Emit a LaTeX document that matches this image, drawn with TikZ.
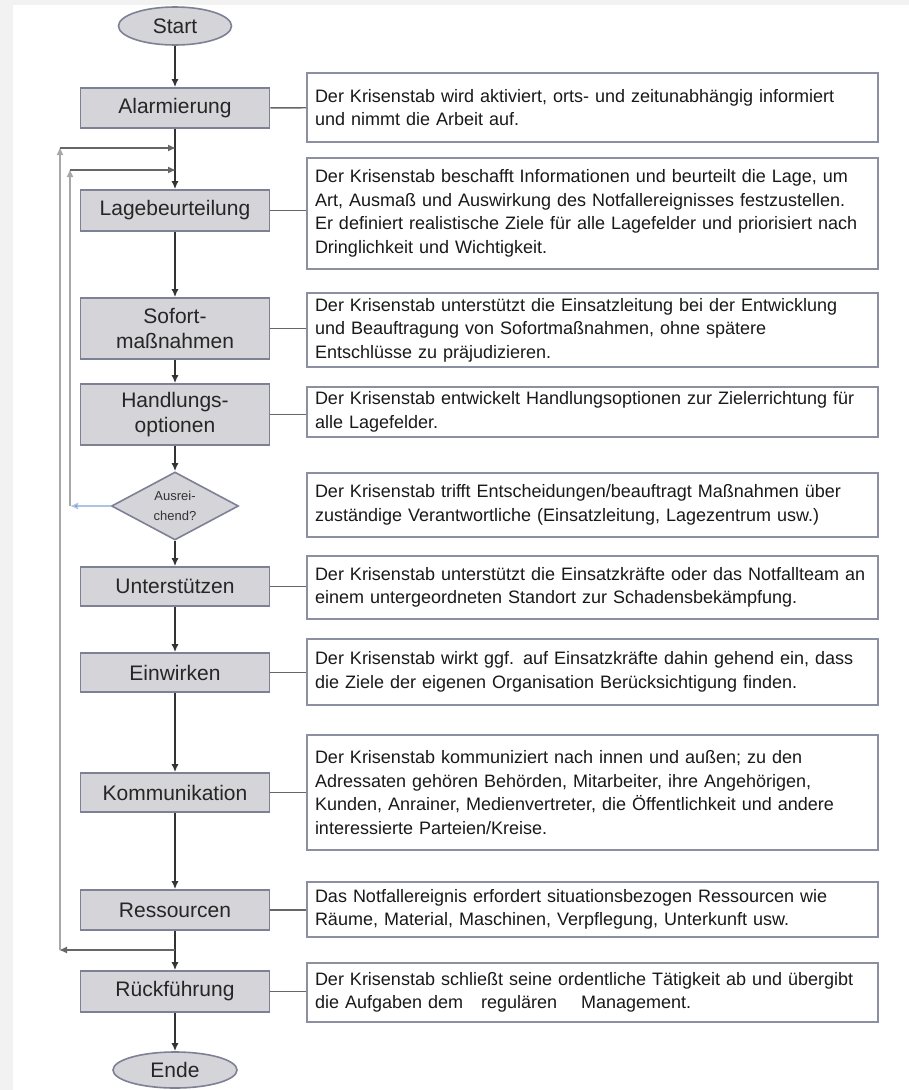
\documentclass[tikz,border=0pt]{standalone}
\usepackage{fontspec}
\setmainfont{Liberation Sans}
\usepackage{xcolor}
\usepackage{tikz}
\usetikzlibrary{arrows.meta, positioning, shapes.geometric}

\definecolor{boxfill}{HTML}{D4D4D9}
\definecolor{boxline}{HTML}{7E8096}
\definecolor{infoline}{HTML}{8C8EA2}
\definecolor{loopline}{HTML}{A8A8A8}
\definecolor{backloop}{HTML}{4A78C0}

\begin{document}
\begin{tikzpicture}[x=1pt, y=-1pt,
    stepbox/.style={rectangle, draw=boxline, line width=1.6pt, fill=boxfill, minimum width=189pt, inner sep=0pt, align=center, text=black!85, font=\fontsize{21}{25}\selectfont},
    terminal/.style={ellipse, draw=boxline, line width=1.6pt, fill=boxfill, inner sep=0pt, text=black!85, font=\fontsize{21}{24}\selectfont},
    decision/.style={diamond, draw=boxline, line width=1.6pt, fill=boxfill, inner sep=0pt, aspect=1.87, minimum width=127pt, minimum height=68pt, align=center, text=black!80, font=\fontsize{13}{20}\selectfont},
    info/.style={rectangle, draw=infoline, line width=1.6pt, fill=white, text width=555pt, inner xsep=8pt, inner ysep=0pt, align=left, text=black!90, font=\fontsize{18}{23.5}\selectfont},
    flow/.style={draw=black!80, line width=1.7pt, -{Latex[length=8pt,width=7pt]}},
    link/.style={draw=black!60, line width=1.3pt},
    loop/.style={draw=loopline, line width=1.4pt, -{Latex[length=8pt,width=7pt]}, shorten >=-1pt}
  ]
  \useasboundingbox (0,0) rectangle (909,1090);
  \fill[black!5] (0,0) rectangle (909,1090);
  \fill[white] (13,5) rectangle (909,1090);

  % flow column
  \node[terminal, minimum width=113pt, minimum height=38pt] (start) at (175,26) {Start};
  \node[stepbox, minimum height=40pt] (alarm) at (175,108) {Alarmierung};
  \node[stepbox, minimum height=41pt] (lage) at (175,210.5) {Lagebeurteilung};
  \node[stepbox, minimum height=61pt] (sofort) at (175,328.5) {Sofort-\\maßnahmen};
  \node[stepbox, minimum height=61pt] (handl) at (175,414.5) {Handlungs-\\optionen};
  \node[decision] (ausr) at (175,506) {Ausrei-\\chend?};
  \node[stepbox, minimum height=39pt] (unterst) at (175,586.5) {Unterstützen};
  \node[stepbox, minimum height=39pt] (einw) at (175,672.5) {Einwirken};
  \node[stepbox, minimum height=39pt] (komm) at (175,792.5) {Kommunikation};
  \node[stepbox, minimum height=40pt] (ress) at (175,910) {Ressourcen};
  \node[stepbox, minimum height=41pt] (rueck) at (175,991.5) {Rückführung};
  \node[terminal, minimum width=124pt, minimum height=36pt] (ende) at (175,1070) {Ende};

  % descriptions
  \node[info, minimum height=69pt] (t-alarm) at (592.5,107.5) {Der Krisenstab wird aktiviert, orts- und zeitunabhängig informiert\\und nimmt die Arbeit auf.};
  \node[info, minimum height=111pt] (t-lage) at (592.5,213.5) {Der Krisenstab beschafft Informationen und beurteilt die Lage, um\\Art, Ausmaß und Auswirkung des Notfallereignisses festzustellen.\\Er definiert realistische Ziele für alle Lagefelder und priorisiert nach\\Dringlichkeit und Wichtigkeit.};
  \node[info, minimum height=74pt] (t-sofort) at (592.5,330) {Der Krisenstab unterstützt die Einsatzleitung bei der Entwicklung\\und Beauftragung von Sofortmaßnahmen, ohne spätere\\Entschlüsse zu präjudizieren.};
  \node[info, minimum height=50pt] (t-handl) at (592.5,412) {Der Krisenstab entwickelt Handlungsoptionen zur Zielerrichtung für\\alle Lagefelder.};
  \node[info, minimum height=64pt] (t-ausr) at (592.5,505) {Der Krisenstab trifft Entscheidungen/beauftragt Maßnahmen über\\zuständige Verantwortliche (Einsatzleitung, Lagezentrum usw.)};
  \node[info, minimum height=63pt] (t-unterst) at (592.5,587.5) {Der Krisenstab unterstützt die Einsatzkräfte oder das Notfallteam an\\einem untergeordneten Standort zur Schadensbekämpfung.};
  \node[info, minimum height=66pt] (t-einw) at (592.5,672) {Der Krisenstab wirkt ggf. auf Einsatzkräfte dahin gehend ein, dass\\die Ziele der eigenen Organisation Berücksichtigung finden.};
  \node[info, minimum height=115pt] (t-komm) at (592.5,792.5) {Der Krisenstab kommuniziert nach innen und außen; zu den\\Adressaten gehören Behörden, Mitarbeiter, ihre Angehörigen,\\Kunden, Anrainer, Medienvertreter, die Öffentlichkeit und andere\\interessierte Parteien/Kreise.};
  \node[info, minimum height=55pt] (t-ress) at (592.5,909.5) {Das Notfallereignis erfordert situationsbezogen Ressourcen wie\\Räume, Material, Maschinen, Verpflegung, Unterkunft usw.};
  \node[info, minimum height=59pt] (t-rueck) at (592.5,992.5) {Der Krisenstab schließt seine ordentliche Tätigkeit ab und übergibt\\die Aufgaben dem \ \ regulären \ \ \ Management.};

  % junctions of the loops
  \coordinate (j1) at (175,148);
  \coordinate (j2) at (175,170);
  \coordinate (j3) at (175,950);
  \coordinate (c1) at (60,148);
  \coordinate (c2) at (70,170);
  \coordinate (c3) at (70,506);
  \coordinate (c4) at (60,950);

  \draw[flow] (start) -- (alarm);
  \draw[flow] (alarm) -- (lage);
  \draw[flow] (lage) -- (sofort);
  \draw[flow] (sofort) -- (handl);
  \draw[flow] (handl) -- (ausr);
  \draw[flow] (ausr) -- (unterst);
  \draw[flow] (unterst) -- (einw);
  \draw[flow] (einw) -- (komm);
  \draw[flow] (komm) -- (ress);
  \draw[flow] (ress) -- (rueck);
  \draw[flow] (rueck) -- (ende);

  % back loops
  \draw[draw=backloop!45, line width=1.4pt, -{Latex[length=8pt,width=7pt,fill=backloop]}] (ausr.west) -- (c3);
  \draw[loop] (c3) -- (c2);
  \draw[loop, draw=black!60] (c2) -- (j2);
  \draw[loop, draw=black!60] (j3) -- (c4);
  \draw[loop] (c4) -- (c1);
  \draw[loop, draw=black!60] (c1) -- (j1);

  \draw[link] (alarm) -- (t-alarm);
  \draw[link] (lage) -- (lage -| t-lage.west);
  \draw[link] (sofort) -- (sofort -| t-sofort.west);
  \draw[link] (handl) -- (handl -| t-handl.west);
  \draw[link] (unterst) -- (unterst -| t-unterst.west);
  \draw[link] (einw) -- (einw -| t-einw.west);
  \draw[link] (komm) -- (komm -| t-komm.west);
  \draw[link] (ress) -- (ress -| t-ress.west);
  \draw[link] (rueck) -- (rueck -| t-rueck.west);
\end{tikzpicture}
\end{document}
